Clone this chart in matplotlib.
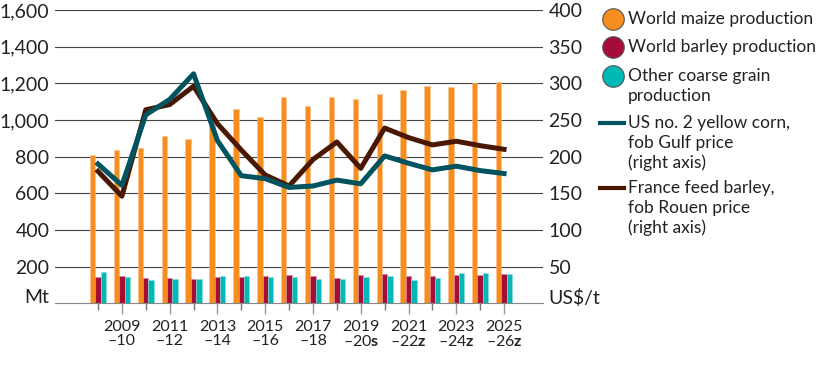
import numpy as np
import matplotlib.pyplot as plt
from matplotlib.lines import Line2D

plt.rcParams['font.family'] = ['Lato', 'DejaVu Sans']
plt.rcParams['mathtext.fontset'] = 'custom'
plt.rcParams['mathtext.rm'] = 'Lato'
plt.rcParams['mathtext.bf'] = 'Lato:bold'

# Data (Mt for production, US$/t for prices)
seasons = ['2008-09', '2009-10', '2010-11', '2011-12', '2012-13', '2013-14',
           '2014-15', '2015-16', '2016-17', '2017-18', '2018-19', '2019-20',
           '2020-21', '2021-22', '2022-23', '2023-24', '2024-25', '2025-26']
maize = [808, 835, 848, 912, 899, 975, 1060, 1016, 1127, 1076, 1123, 1116,
         1143, 1165, 1183, 1181, 1200, 1209]
barley = [145, 149, 136, 138, 131, 142, 145, 147, 153, 149, 140, 156,
          158, 149, 149, 153, 155, 158]
other = [171, 145, 127, 131, 131, 149, 147, 145, 144, 134, 134, 144,
         149, 125, 140, 164, 164, 162]
corn_price = [190, 161, 257, 278, 313, 222, 174, 170, 158, 160, 168, 163,
              201, 191, 182, 187, 181, 177]
barley_price = [180, 146, 264, 271, 296, 245, 209, 175, 160, 196, 220, 184,
                239, 226, 216, 221, 215, 210]
tick_labels = ['2009\n–10', '2011\n–12', '2013\n–14', '2015\n–16', '2017\n–18',
               '2019\n–20$\\mathbf{s}$', '2021\n–22$\\mathbf{z}$',
               '2023\n–24$\\mathbf{z}$', '2025\n–26$\\mathbf{z}$']

orange = '#F68D1F'
red = '#A50D38'
teal = '#00B8B6'
corn_col = '#00535F'
brown = '#4A1702'

fig = plt.figure(figsize=(8.16, 3.66), dpi=100)
ax = fig.add_axes([55 / 816, 1 - 303.3 / 366, 488 / 816, 293.3 / 366])

x = np.arange(len(seasons))
w = 0.225
ax.bar(x - w, maize, w, color=orange, edgecolor='#FBC48C', linewidth=0.4, zorder=2)
ax.bar(x, barley, w, color=red, edgecolor='#D88BA0', linewidth=0.4, zorder=2)
ax.bar(x + w, other, w, color=teal, edgecolor='#8FE0DE', linewidth=0.4, zorder=2)

for v in range(200, 1601, 200):
    ax.axhline(v, color='#444444', lw=0.8, zorder=0)

ax.set_xlim(-1.8, 18.63)
ax.set_ylim(0, 1600)
ax.set_yticks(range(0, 1601, 200))
ax.set_yticklabels(['', '200', '400', '600', '800', '1,000', '1,200', '1,400', '1,600'])
ax.tick_params(axis='y', length=0, pad=4, labelsize=14, colors='#222222')
ax.annotate('Mt', xy=(0, 0), xycoords=ax.get_yaxis_transform(), xytext=(-4, 4),
            textcoords='offset points', ha='right', va='center', fontsize=14,
            color='#222222')

ax.set_xticks(x[1::2])
ax.set_xticklabels(tick_labels)
ax.set_xticks(x[0::2], minor=True)
ax.tick_params(axis='x', which='major', length=8, width=1, color='#999999',
               pad=4, labelsize=11.5, labelcolor='#222222')
ax.tick_params(axis='x', which='minor', length=5, width=1, color='#777777')
for lbl in ax.get_xticklabels():
    lbl.set_linespacing(1.0)

for s in ['top', 'left', 'right']:
    ax.spines[s].set_visible(False)
ax.spines['bottom'].set_color('#888888')

ax2 = ax.twinx()
ax2.plot(x, barley_price, color=brown, lw=3.6, zorder=3)
ax2.plot(x, corn_price, color=corn_col, lw=3.6, zorder=4)
ax2.set_ylim(0, 400)
ax2.set_yticks(range(0, 401, 50))
ax2.set_yticklabels([''] + [str(v) for v in range(50, 401, 50)])
ax2.tick_params(axis='y', length=0, pad=4, labelsize=14, colors='#222222')
ax2.annotate('US$/t', xy=(1, 0), xycoords=ax2.get_yaxis_transform(), xytext=(4, 4),
             textcoords='offset points', ha='left', va='center', fontsize=14,
             color='#222222')
for s in ['top', 'left', 'right', 'bottom']:
    ax2.spines[s].set_visible(False)

# legend drawn by hand so the handles line up with the first text line
def fx(px):
    return px / 816

def fy(py):
    return 1 - py / 366

entries = [
    ('circle', orange, ['World maize production'], 19),
    ('circle', red, ['World barley production'], 47),
    ('circle', teal, ['Other coarse grain', 'production'], 76),
    ('line', corn_col, ['US no. 2 yellow corn,', 'fob Gulf price', '(right axis)'], 123),
    ('line', brown, ['France feed barley,', 'fob Rouen price', '(right axis)'], 188),
]
for kind, col, lines, py in entries:
    if kind == 'circle':
        fig.add_artist(Line2D([fx(613)], [fy(py)], marker='o', markersize=15.5,
                              markerfacecolor=col, markeredgecolor='#555555',
                              markeredgewidth=0.8, transform=fig.transFigure))
    else:
        fig.add_artist(Line2D([fx(600), fx(624)], [fy(py), fy(py)], color=col,
                              lw=3, transform=fig.transFigure))
    for i, line in enumerate(lines):
        fig.text(fx(628), fy(py + 20 * i), line, fontsize=12.5, va='center',
                 ha='left', color='#222222')

fig.savefig('out.png', dpi=100)
